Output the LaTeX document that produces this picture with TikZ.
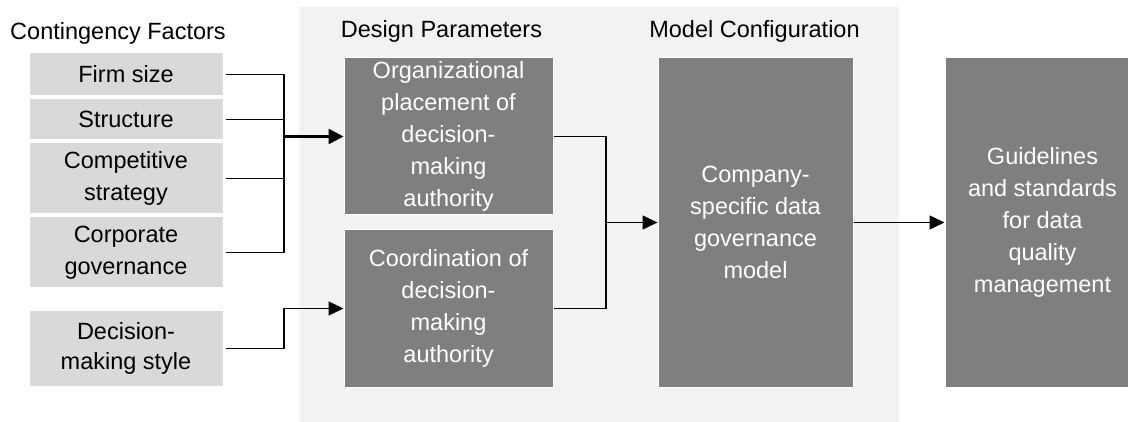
\documentclass[tikz,border=0pt]{standalone}
\usepackage{fontspec}
\setmainfont{Liberation Sans}
\usetikzlibrary{arrows.meta}
\definecolor{lboxc}{RGB}{217,217,217}
\definecolor{dboxc}{RGB}{127,127,127}
\definecolor{panelc}{RGB}{242,242,242}
\begin{document}
\begin{tikzpicture}[x=1pt,y=-1pt,
  txt/.style={font=\fontsize{23.5}{32}\selectfont, align=center, inner sep=0pt},
  lbox/.style={txt, fill=lboxc, draw=white, line width=1pt, minimum width=194pt, text=black},
  dbox/.style={txt, fill=dboxc, draw=white, line width=1pt, text=white},
  head/.style={txt, text=black},
  conn/.style={draw=black, line width=1.5pt},
  arr/.style={conn, -{Triangle[length=15pt,width=14pt]}},
  thickarr/.style={draw=black, line width=2.6pt, -{Triangle[length=15pt,width=15pt]}}]
\useasboundingbox (0,0) rectangle (1128,422);
\clip (0,0) rectangle (1128,422);
\fill[panelc] (299,7) rectangle (899,430);
% headers
\node[head] (h1) at (118,33) {Contingency Factors};
\node[head] (h2) at (441.5,31) {Design Parameters};
\node[head] (h3) at (754.5,31) {Model Configuration};
% left boxes
\node[lbox, minimum height=43pt] (fs) at (126,74.5) {Firm size};
\node[lbox, minimum height=41pt] (st) at (126,119.5) {Structure};
\node[lbox, minimum height=71pt] (cs) at (126,178.5) {Competitive\\strategy};
\node[lbox, minimum height=71pt] (cg) at (126,252.5) {Corporate\\governance};
\node[lbox, minimum height=75pt, font=\fontsize{23.5}{30}\selectfont] (dm) at (126,348.5) {Decision-\\making style};
% design parameter boxes
\node[dbox, minimum width=209pt, minimum height=157pt] (org) at (448.5,136.5) {Organizational\\placement of\\decision-\\making\\authority};
\node[dbox, minimum width=209pt, minimum height=157pt] (coord) at (448.5,308.5) {Coordination of\\decision-\\making\\authority};
% model box
\node[dbox, minimum width=195pt, minimum height=329pt] (comp) at (755.5,222.5) {Company-\\specific data\\governance\\model};
\node[dbox, minimum width=195pt, minimum height=329pt] (guide) at (1042.5,222.5) {Guidelines\\and standards\\for data\\quality\\management};
% bus coordinates
\coordinate (bus) at (284,0);
\coordinate (bus2) at (606,0);
% connectors from contingency factors
\draw[conn] ([xshift=2pt]fs.east) -- (fs.east -| bus) -- (cg.east -| bus) -- ([xshift=2pt]cg.east);
\draw[conn] ([xshift=2pt]st.east) -- (st.east -| bus);
\draw[conn] ([xshift=2pt]cs.east) -- (cs.east -| bus);
\draw[thickarr] (org.west -| bus) -- (org.west);
\draw[arr] ([xshift=2pt]dm.east) -| (coord.west -| bus) -- (coord.west);
% connectors from design parameters
\draw[conn] (org.east) -- (org.east -| bus2) -- (coord.east -| bus2) -- (coord.east);
\draw[arr] (comp.west -| bus2) -- (comp.west);
\draw[arr] (comp.east) -- (guide.west);
\end{tikzpicture}
\end{document}
